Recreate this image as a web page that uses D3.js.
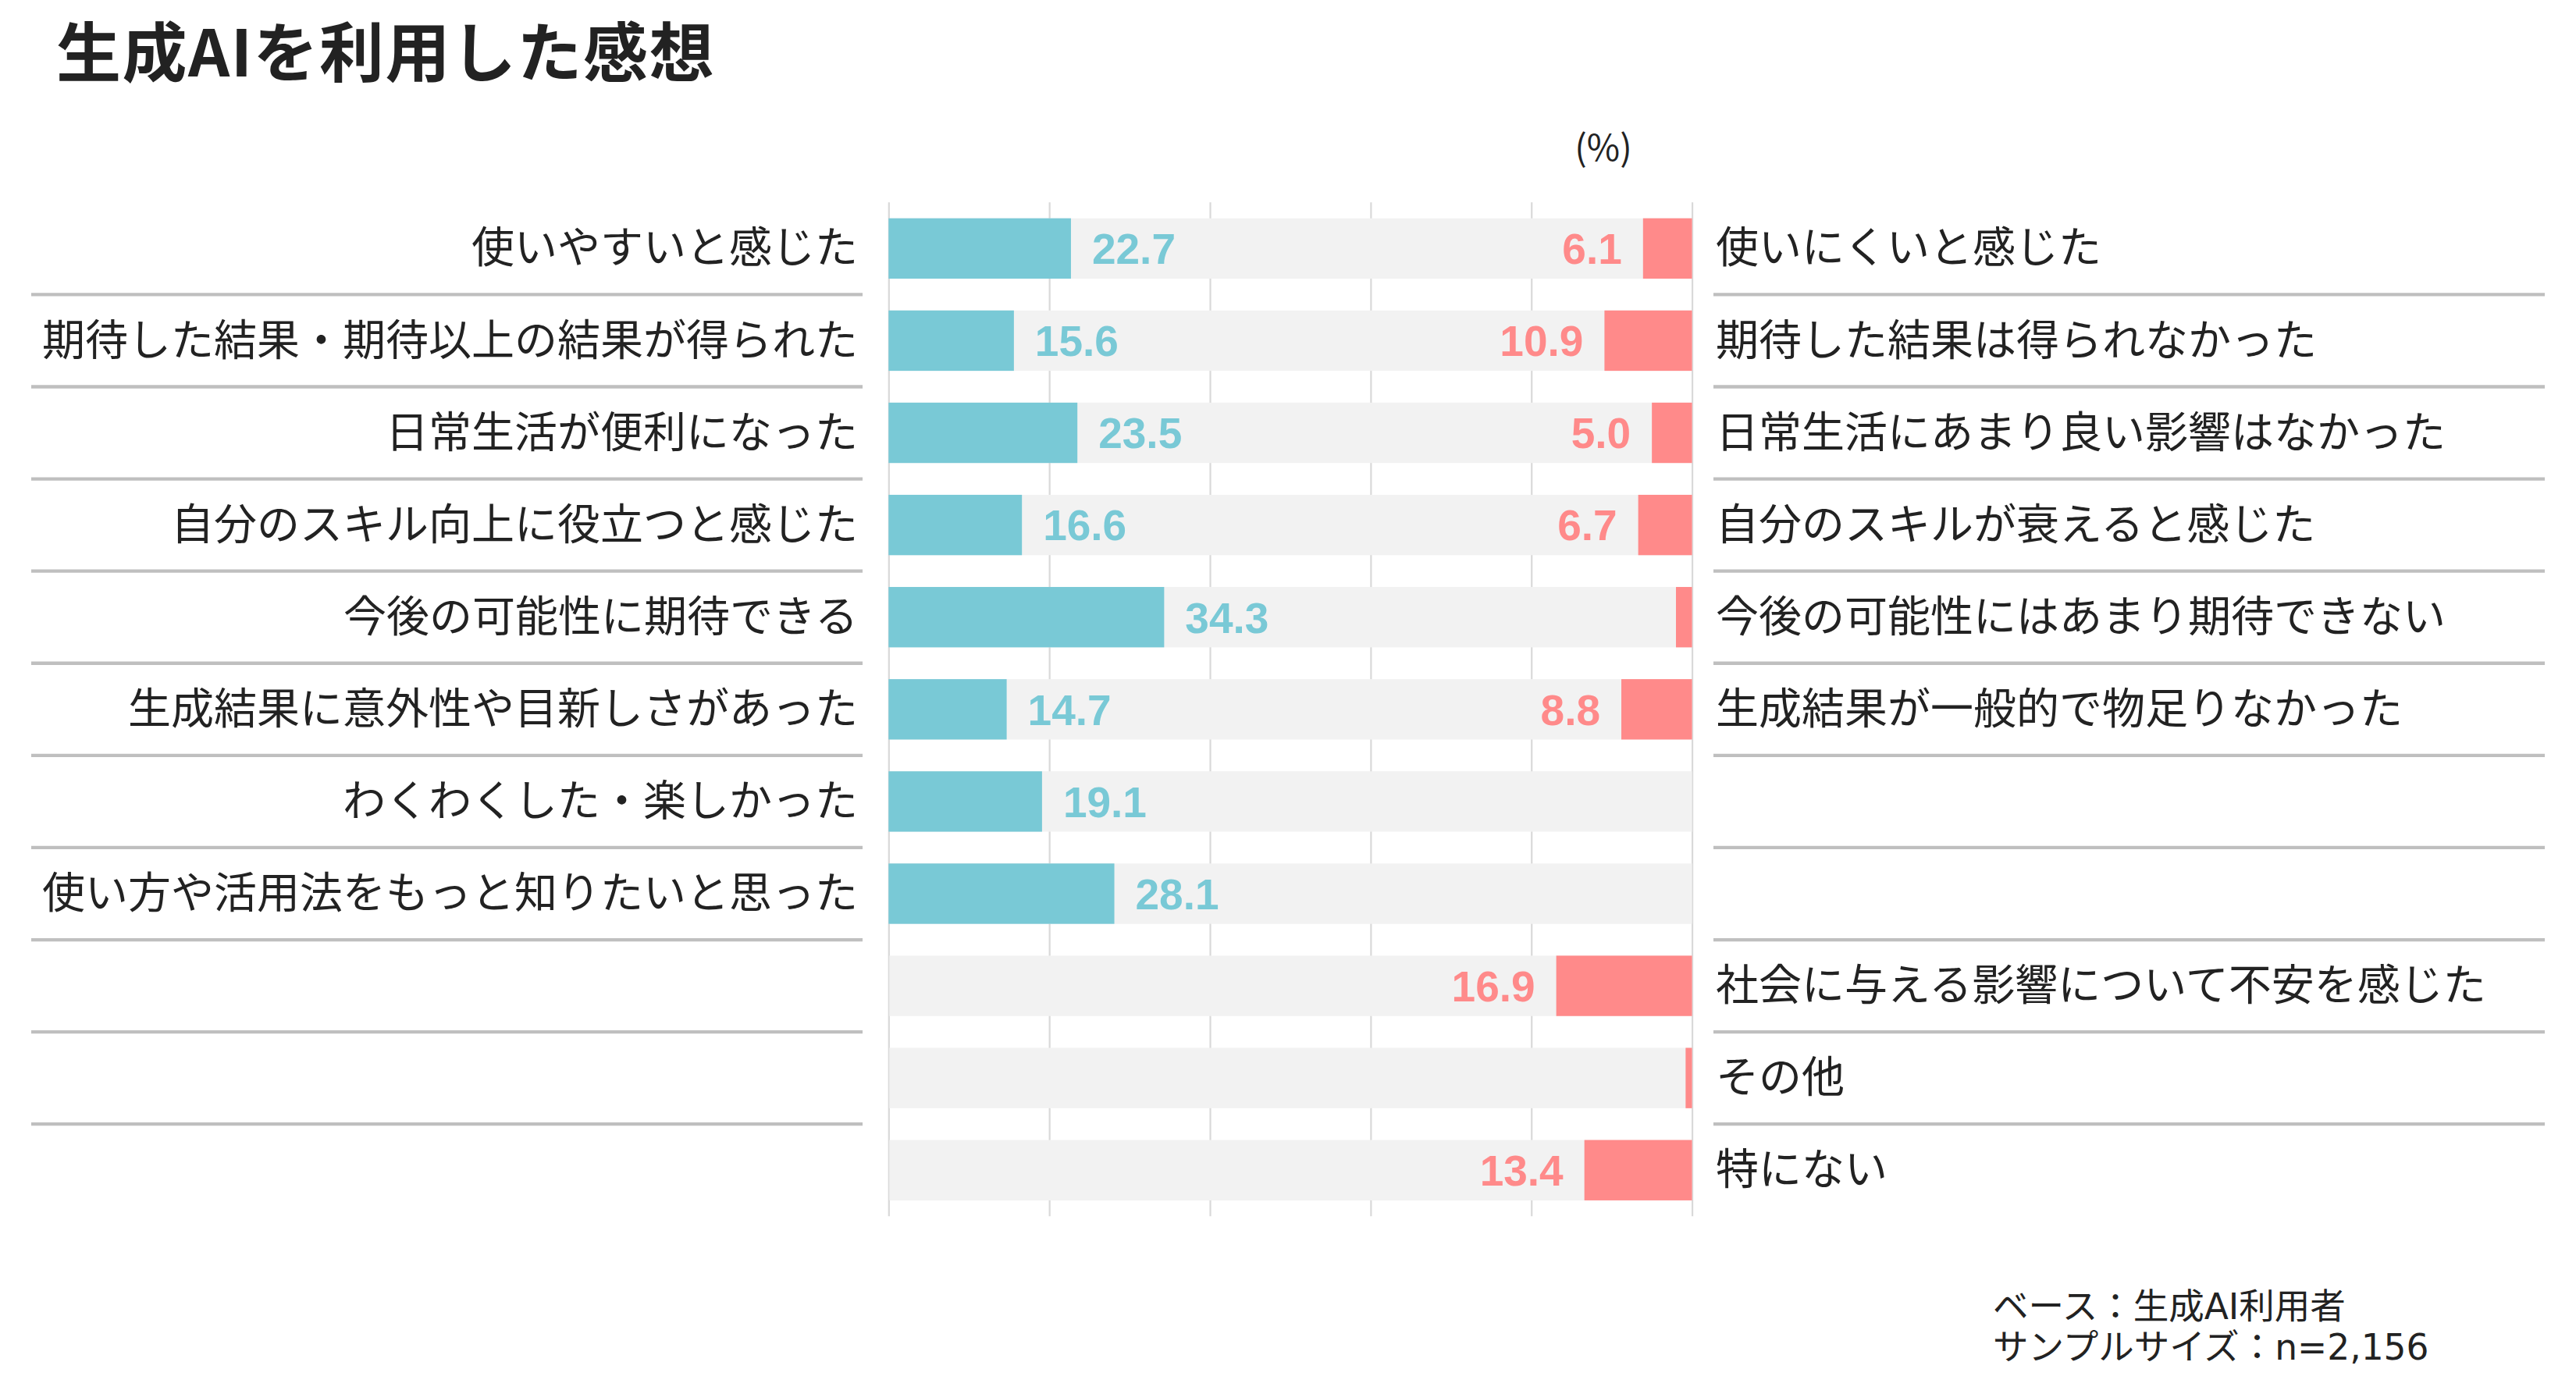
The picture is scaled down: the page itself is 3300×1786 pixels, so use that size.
<!DOCTYPE html>
<html>
<head>
<meta charset="utf-8">
<script src="https://cdn.jsdelivr.net/npm/d3@7"></script>
<style>
  html, body { margin: 0; padding: 0; background: #ffffff; }
  svg { display: block; }
</style>
</head>
<body>
<script>
// ---------------- data ----------------
const positiveLabels = [
  "使いやすいと感じた",
  "期待した結果・期待以上の結果が得られた",
  "日常生活が便利になった",
  "自分のスキル向上に役立つと感じた",
  "今後の可能性に期待できる",
  "生成結果に意外性や目新しさがあった",
  "わくわくした・楽しかった",
  "使い方や活用法をもっと知りたいと思った",
  "",
  "",
  ""
];
const negativeLabels = [
  "使いにくいと感じた",
  "期待した結果は得られなかった",
  "日常生活にあまり良い影響はなかった",
  "自分のスキルが衰えると感じた",
  "今後の可能性にはあまり期待できない",
  "生成結果が一般的で物足りなかった",
  "",
  "",
  "社会に与える影響について不安を感じた",
  "その他",
  "特にない"
];
const positiveValues = [22.7, 15.6, 23.5, 16.6, 34.3, 14.7, 19.1, 28.1, null, null, null];
const negativeValues = [6.1, 10.9, 5.0, 6.7, 2.0, 8.8, null, null, 16.9, 0.8, 13.4];
const xTicks = [0, 20, 40, 60, 80, 100];

const titleText = "生成AIを利用した感想";
const unitText = "(%)";
const noteLines = ["ベース：生成AI利用者", "サンプルサイズ：n=2,156"];

// ---------------- layout ----------------
const W = 3300, H = 1786;
const FONT = "'Noto Sans CJK JP', 'Noto Sans', sans-serif";
const NOTEFONT = "'DejaVu Sans', 'Noto Sans CJK JP', sans-serif";
const NUMFONT = "'Liberation Sans', Arial, sans-serif";
const BLUE = "#79C9D6", RED = "#FF8A8A", GREY = "#F2F2F2", GRID = "#D9D9D9", SEP = "#BFBFBF", TEXT = "#222222";

const svg = d3.select("body").append("svg").attr("width", W).attr("height", H);
svg.append("rect").attr("width", W).attr("height", H).attr("fill", "#fff");

const rows = d3.range(positiveLabels.length);
const x = d3.scaleLinear().domain([0, 100]).range([1138.3, 2167.6]);
const y = d3.scaleBand().domain(rows).range([259.3, 1558.3]).paddingInner(0.345).paddingOuter(0.1725);
const bw = y.bandwidth();
const step = y.step();

// title
svg.append("text")
  .attr("x", 72).attr("y", 97.5)
  .attr("font-family", FONT).attr("font-weight", 700).attr("font-size", 83)
  .attr("letter-spacing", 1.5)
  .attr("fill", TEXT).text(titleText);

// unit
svg.append("text")
  .attr("x", 2054).attr("y", 206).attr("text-anchor", "middle")
  .attr("font-family", FONT).attr("font-size", 46)
  .attr("fill", TEXT).text(unitText);

// gridlines (vertical) via axis
const gridAxis = d3.axisTop(x).tickValues(xTicks).tickSize(-(1558.3 - 259.3)).tickFormat("");
const gg = svg.append("g").attr("transform", "translate(0,259.3)").call(gridAxis);
gg.select(".domain").remove();
gg.selectAll(".tick line").attr("stroke", GRID).attr("stroke-width", 2.2);

// grey background bars
svg.append("g").selectAll("rect").data(rows).join("rect")
  .attr("x", x(0) + 1).attr("width", x(100) - x(0) - 1)
  .attr("y", i => y(i)).attr("height", bw)
  .attr("fill", GREY);

// positive bars
svg.append("g").selectAll("rect").data(rows.filter(i => positiveValues[i] != null)).join("rect")
  .attr("x", x(0)).attr("width", i => x(positiveValues[i]) - x(0))
  .attr("y", i => y(i)).attr("height", bw)
  .attr("fill", BLUE);

// negative bars (from right)
svg.append("g").selectAll("rect").data(rows.filter(i => negativeValues[i] != null)).join("rect")
  .attr("x", i => x(100 - negativeValues[i])).attr("width", i => x(100) - x(100 - negativeValues[i]))
  .attr("y", i => y(i)).attr("height", bw)
  .attr("fill", RED);

// value labels
svg.append("g").selectAll("text").data(rows.filter(i => positiveValues[i] != null && positiveValues[i] >= 3)).join("text")
  .attr("x", i => x(positiveValues[i]) + 27)
  .attr("y", i => y(i) + bw / 2).attr("dy", "0.36em")
  .attr("font-family", NUMFONT).attr("font-weight", 700).attr("font-size", 55)
  .attr("fill", BLUE)
  .text(i => positiveValues[i].toFixed(1));

svg.append("g").selectAll("text").data(rows.filter(i => negativeValues[i] != null && negativeValues[i] >= 3)).join("text")
  .attr("x", i => x(100 - negativeValues[i]) - 27)
  .attr("y", i => y(i) + bw / 2).attr("dy", "0.36em")
  .attr("text-anchor", "end")
  .attr("font-family", NUMFONT).attr("font-weight", 700).attr("font-size", 55)
  .attr("fill", RED)
  .text(i => negativeValues[i].toFixed(1));

// separators
const sepRows = rows.slice(0, rows.length - 1);
const sepY = i => y(i) + bw + (step - bw) / 2;
svg.append("g").selectAll("line").data(sepRows).join("line")
  .attr("x1", 40).attr("x2", 1105)
  .attr("y1", sepY).attr("y2", sepY)
  .attr("stroke", SEP).attr("stroke-width", 4.3);
svg.append("g").selectAll("line").data(sepRows).join("line")
  .attr("x1", 2195).attr("x2", 3260)
  .attr("y1", sepY).attr("y2", sepY)
  .attr("stroke", SEP).attr("stroke-width", 4.3);

// category labels
svg.append("g").selectAll("text").data(rows).join("text")
  .attr("x", 1099).attr("y", i => y(i) + bw / 2).attr("dy", "0.33em")
  .attr("text-anchor", "end")
  .attr("font-family", FONT).attr("font-size", 55).attr("fill", TEXT)
  .text(i => positiveLabels[i]);

svg.append("g").selectAll("text").data(rows).join("text")
  .attr("x", 2198).attr("y", i => y(i) + bw / 2).attr("dy", "0.33em")
  .attr("font-family", FONT).attr("font-size", 55).attr("fill", TEXT)
  .text(i => negativeLabels[i]);

// footnote (one text block, two lines)
const note = svg.append("text")
  .attr("x", 2553).attr("y", 1690)
  .attr("font-family", NOTEFONT).attr("font-size", 45.5).attr("fill", TEXT);
note.selectAll("tspan").data(noteLines).join("tspan")
  .attr("x", 2553).attr("dy", (d, i) => i === 0 ? 0 : 52)
  .text(d => d);
</script>
</body>
</html>
